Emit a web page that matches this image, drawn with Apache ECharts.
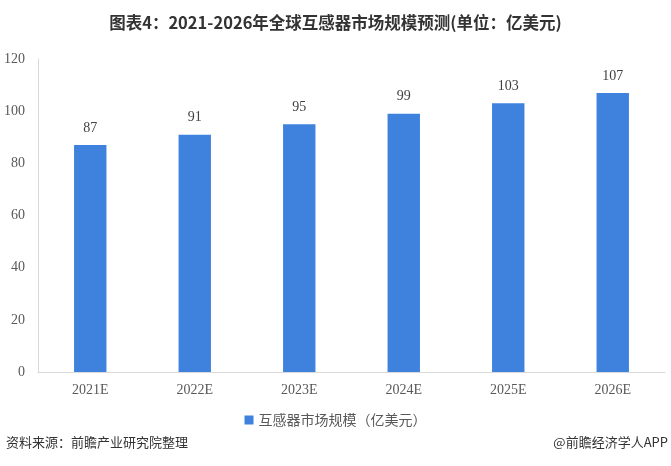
<!DOCTYPE html>
<html><head><meta charset="utf-8">
<script src="https://cdn.jsdelivr.net/npm/echarts@6/dist/echarts.min.js"></script>
<style>html,body{margin:0;padding:0;background:#fff}#c{width:671px;height:466px}</style>
</head><body><div id="c"></div>
<script>
const categories = ['2021E','2022E','2023E','2024E','2025E','2026E'];
const values = [87, 91, 95, 99, 103, 107];
const seriesName = '互感器市场规模（亿美元）';
const titleText = '图表4：2021-2026年全球互感器市场规模预测(单位：亿美元)';
const sourceText = '资料来源：前瞻产业研究院整理';
const brandText = '@前瞻经济学人APP';

const chart = echarts.init(document.getElementById('c'));
chart.setOption({
  backgroundColor: '#fff',
  animation: false,
  title: {
    text: titleText, left: 'center', top: 9,
    textStyle: {fontSize: 16.5, fontWeight: 'bold', color: '#333', fontFamily: 'Noto Sans CJK SC'}
  },
  graphic: [
    {type: 'text', left: 6, top: 436, style: {text: sourceText, fontSize: 13, fill: '#333', fontFamily: 'Noto Sans CJK SC'}},
    {type: 'text', right: 3, top: 436, style: {text: brandText, fontSize: 13, fill: '#333', fontFamily: 'Noto Sans CJK SC'}}
  ],
  legend: {
    data: [seriesName], top: 408, left: 'center', itemWidth: 9, itemHeight: 9, itemGap: 3,
    icon: 'rect',
    textStyle: {fontSize: 14, color: '#595959', fontFamily: 'Noto Sans CJK SC'}
  },
  grid: {left: 38, right: 6, top: 59, bottom: 94},
  xAxis: {
    type: 'category', data: categories,
    axisLine: {lineStyle: {color: '#d9d9d9'}},
    axisTick: {show: false},
    axisLabel: {color: '#595959', fontSize: 14, fontFamily: 'Liberation Serif', margin: 11}
  },
  yAxis: {
    type: 'value', min: 0, max: 120, interval: 20,
    axisLine: {show: true, lineStyle: {color: '#d9d9d9'}},
    axisTick: {show: false},
    splitLine: {show: false},
    axisLabel: {color: '#595959', fontSize: 14, fontFamily: 'Liberation Serif', margin: 13}
  },
  series: [{
    name: seriesName, type: 'bar', data: values, barWidth: '31%',
    itemStyle: {color: '#3f82de'},
    label: {show: true, position: 'top', distance: 10, color: '#404040', fontSize: 14, fontFamily: 'Liberation Serif'}
  }]
});
</script></body></html>
